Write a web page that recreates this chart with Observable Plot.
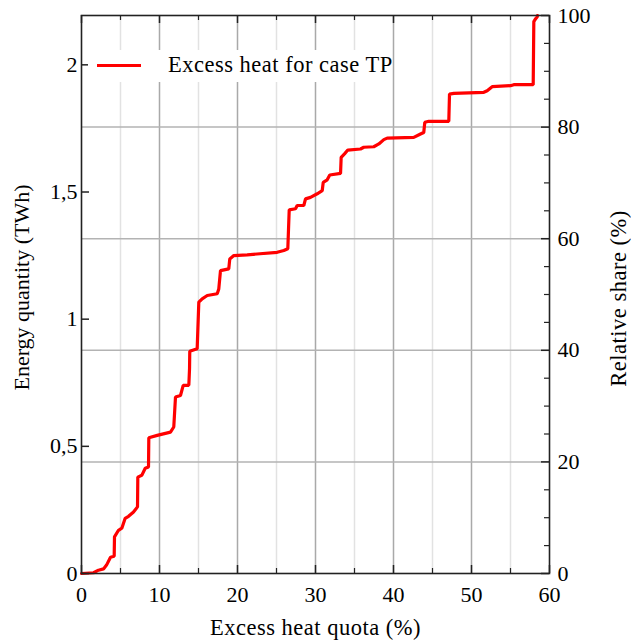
<!DOCTYPE html>
<html><head><meta charset="utf-8">
<script src="https://cdn.jsdelivr.net/npm/d3@7"></script>
<script src="https://cdn.jsdelivr.net/npm/@observablehq/plot@0.6"></script>
<style>
html,body{margin:0;padding:0;background:#fff;}
#wrap{position:relative;width:631px;height:640px;}
#legend{position:absolute;left:88px;top:50px;width:304px;height:32px;background:#fff;font-family:"Liberation Serif",serif;font-size:22.5px;letter-spacing:0.5px;color:#000;}
#legend .swatch{position:absolute;left:9px;top:14px;width:44px;height:3px;background:#ff0000;}
#legend .lbl{position:absolute;left:80px;top:3px;white-space:nowrap;line-height:24px;}
</style></head>
<body><div id="wrap"></div>
<script>
// ---- data ----
const seriesName = "Excess heat for case TP";
const quota = [0, 1.54, 2.18, 2.82, 3.21, 3.72, 4.19, 4.23, 4.74, 5.17, 5.60, 6.03, 6.67, 7.18, 7.22, 7.73, 8.17, 8.59, 8.63, 9.71,
  11.41, 11.83, 12.05, 12.69, 13.04, 13.76, 13.85, 13.88, 14.83, 15.04, 15.47, 16.12, 17.40, 17.60, 17.82, 18.88, 19.01, 19.53, 21.24,
  25.09, 25.94, 26.45, 26.63, 27.44, 27.65, 28.50, 28.72, 29.36, 30.22, 30.86, 30.99, 31.50, 31.83, 33.21, 33.29, 33.72, 34.14, 35.77,
  36.19, 37.47, 38.12, 38.76, 39.19, 42.60, 43.46, 43.88, 44.01, 44.53, 47.09, 47.18, 47.73, 51.58, 52.01, 52.65, 55.00, 55.42, 57.91,
  57.99, 58.21, 58.42, 58.46];
const energy = [0, 0.003, 0.013, 0.018, 0.033, 0.064, 0.068, 0.144, 0.170, 0.178, 0.217, 0.225, 0.242, 0.262, 0.379, 0.386, 0.414, 0.419, 0.534, 0.543,
  0.556, 0.576, 0.694, 0.700, 0.740, 0.740, 0.805, 0.874, 0.884, 1.067, 1.080, 1.093, 1.100, 1.119, 1.191, 1.198, 1.237, 1.250, 1.253,
  1.263, 1.270, 1.277, 1.430, 1.434, 1.447, 1.447, 1.473, 1.479, 1.493, 1.505, 1.538, 1.548, 1.567, 1.573, 1.636, 1.650, 1.665, 1.669,
  1.676, 1.678, 1.689, 1.706, 1.712, 1.715, 1.728, 1.734, 1.774, 1.778, 1.778, 1.885, 1.888, 1.892, 1.898, 1.914, 1.918, 1.922, 1.922,
  2.170, 2.181, 2.188, 2.194];
const energyTotal = 2.194;            // TWh corresponding to 100 %
const xTicks = [0, 10, 20, 30, 40, 50, 60];
const xMinorTicks = [5, 15, 25, 35, 45, 55];
const yTicks = [0, 0.5, 1, 1.5, 2];
const yTickLabels = ["0", "0,5", "1", "1,5", "2"];
const shareTicks = [0, 20, 40, 60, 80, 100];
const shareMinorTicks = [5, 10, 15, 25, 30, 35, 45, 50, 55, 65, 70, 75, 85, 90, 95];
const xLabel = "Excess heat quota (%)";
const yLabel = "Energy quantity (TWh)";
const y2Label = "Relative share (%)";

// ---- build ----
const data = quota.map((q, i) => ({quota: q, energy: energy[i]}));
const toY = p => p / 100 * energyTotal;
const W = 631, H = 640, mL = 81, mR = 82, mT = 15, mB = 67;
const pw = W - mL - mR, ph = H - mT - mB;
const font = "Liberation Serif, Times New Roman, serif";
const axisCol = "#222";

const chart = Plot.plot({
  width: W, height: H,
  marginLeft: mL, marginRight: mR, marginTop: mT, marginBottom: mB,
  style: {fontFamily: font, fontSize: "22px", color: "#000", background: "#fff"},
  x: {domain: [0, 60]},
  y: {domain: [0, energyTotal]},
  marks: [
    Plot.ruleX(xMinorTicks, {x: d => d, stroke: "#e2e2e2", strokeWidth: 1.5}),
    Plot.ruleX(xTicks.slice(1, -1), {x: d => d, stroke: "#a9a9a9", strokeWidth: 1.5}),
    Plot.ruleY(shareTicks.slice(1, -1), {y: d => toY(d), stroke: "#b3b3b3", strokeWidth: 1.5}),
    Plot.line(data, {x: "quota", y: "energy", stroke: "#ff0000", strokeWidth: 3.2, strokeLinejoin: "miter"}),
    Plot.frame({stroke: axisCol, strokeWidth: 1.6}),
    // inward ticks bottom / top
    Plot.tickX(xTicks, {x: d => d, insetTop: ph - 8, stroke: axisCol, strokeWidth: 1.5}),
    Plot.tickX(xTicks, {x: d => d, insetBottom: ph - 8, stroke: axisCol, strokeWidth: 1.5}),
    Plot.tickX(xMinorTicks, {x: d => d, insetTop: ph - 5, stroke: axisCol, strokeWidth: 1.2}),
    Plot.tickX(xMinorTicks, {x: d => d, insetBottom: ph - 5, stroke: axisCol, strokeWidth: 1.2}),
    // inward ticks left / right
    Plot.tickY(yTicks, {y: d => d, insetRight: pw - 8, stroke: axisCol, strokeWidth: 1.5}),
    Plot.tickY(shareTicks, {y: d => toY(d), insetLeft: pw - 8, stroke: axisCol, strokeWidth: 1.5}),
    Plot.tickY(shareMinorTicks, {y: d => toY(d), insetLeft: pw - 5, stroke: axisCol, strokeWidth: 1.2}),
    // tick labels
    Plot.axisX(xTicks, {anchor: "bottom", tickSize: 0, tickPadding: 13, label: null, fontSize: 22}),
    Plot.axisY(yTicks, {anchor: "left", tickSize: 0, tickPadding: 4, label: null, fontSize: 22,
      tickFormat: d => yTickLabels[yTicks.indexOf(d)]}),
    Plot.axisY(shareTicks.map(toY), {anchor: "right", tickSize: 0, tickPadding: 8, label: null, fontSize: 22,
      tickFormat: d => String(Math.round(d / energyTotal * 100))}),
    // axis titles
    Plot.text([xLabel], {frameAnchor: "bottom", text: d => d, textAnchor: "middle", lineAnchor: "middle", dy: 54, fontSize: 22.5}),
    Plot.text([yLabel], {frameAnchor: "left", text: d => d, textAnchor: "middle", lineAnchor: "middle", rotate: -90, dx: -60, dy: -7, fontSize: 22}),
    Plot.text([y2Label], {frameAnchor: "right", text: d => d, textAnchor: "middle", lineAnchor: "middle", rotate: -90, dx: 69, dy: 4, fontSize: 22.5})
  ]
});
// slight letter spacing on titles to match the reference's wider type
d3.select(chart).selectAll("text").each(function() {
  const t = this.textContent;
  if (t === xLabel || t === y2Label) this.style.letterSpacing = "0.5px";
});
const wrap = document.getElementById("wrap");
wrap.appendChild(chart);
const leg = document.createElement("div");
leg.id = "legend";
leg.innerHTML = '<span class="swatch"></span><span class="lbl"></span>';
leg.querySelector(".lbl").textContent = seriesName;
wrap.appendChild(leg);
</script>
</body></html>
